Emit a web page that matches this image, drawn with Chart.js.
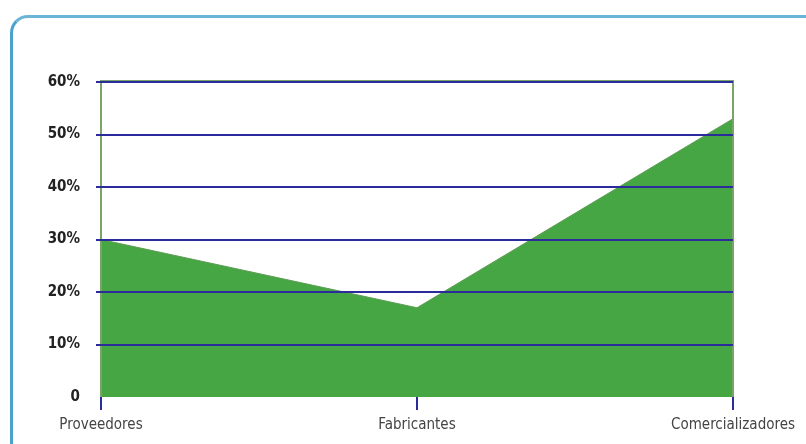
<!DOCTYPE html>
<html>
<head>
<meta charset="utf-8">
<script src="https://cdn.jsdelivr.net/npm/chart.js"></script>
<style>
  html, body { margin: 0; padding: 0; background: #fff; overflow: hidden; }
  #wrap { position: relative; width: 806px; height: 444px; }
  #frame {
    position: absolute; left: 10px; top: 15px; width: 900px; height: 500px;
    border: 3px solid #4aa3cc; border-top-color: #6cb4d6; border-radius: 18px; box-sizing: border-box;
  }
  #chart { position: absolute; left: 0; top: 0; }
</style>
</head>
<body>
<div id="wrap">
  <div id="frame"></div>
  <canvas id="chart" width="806" height="444"></canvas>
</div>
<script>
// Data
const categories = ['Proveedores', 'Fabricantes', 'Comercializadores'];
const shares = [30, 17, 53];
const yTicks = [0, 10, 20, 30, 40, 50, 60];

const navy = '#2b2b9b';
const green = '#47a644';
const edgeGreen = '#78a468';

// green box round the plot area (left, top, right)
const plotBox = {
  id: 'plotBox',
  afterDatasetsDraw(chart) {
    const { ctx, chartArea: a } = chart;
    ctx.save();
    ctx.strokeStyle = edgeGreen;
    ctx.lineWidth = 2;
    ctx.beginPath();
    ctx.moveTo(a.left, a.bottom);
    ctx.lineTo(a.left, a.top - 1);
    ctx.lineTo(a.right, a.top - 1);
    ctx.lineTo(a.right, a.bottom);
    ctx.stroke();
    ctx.restore();
  }
};

new Chart(document.getElementById('chart'), {
  type: 'line',
  data: {
    labels: categories,
    datasets: [{
      data: shares,
      fill: 'origin',
      backgroundColor: green,
      borderColor: '#5e9c55',
      borderWidth: 1,
      pointRadius: 0,
      tension: 0
    }]
  },
  options: {
    responsive: false,
    animation: false,
    layout: { padding: { left: 0, right: 73, top: 82, bottom: 0 } },
    plugins: { legend: { display: false }, tooltip: { enabled: false } },
    scales: {
      x: {
        offset: false,
        border: { display: false },
        grid: { drawOnChartArea: false, tickLength: 13, color: navy, lineWidth: 2 },
        ticks: {
          color: '#444',
          padding: 6,
          maxRotation: 0,
          font: { family: '"Liberation Sans Narrow", "DejaVu Sans Condensed", sans-serif', size: 15 }
        },
        afterFit(scale) { scale.height = 47; }
      },
      y: {
        min: 0,
        max: 60,
        afterBuildTicks(scale) { scale.ticks = yTicks.map(v => ({ value: v })); },
        border: { display: false },
        grid: {
          z: 1,
          tickLength: 5,
          lineWidth: 2,
          color: ctx => ctx.tick && ctx.tick.value === 0 ? 'rgba(0,0,0,0)' : navy
        },
        ticks: {
          color: '#222',
          padding: 16,
          font: { family: '"Liberation Sans Narrow", "DejaVu Sans Condensed", sans-serif', size: 15, weight: 'bold' },
          callback: v => v === 0 ? '0' : v + '%'
        },
        afterFit(scale) { scale.width = 101; }
      }
    }
  },
  plugins: [plotBox]
});
</script>
</body>
</html>
